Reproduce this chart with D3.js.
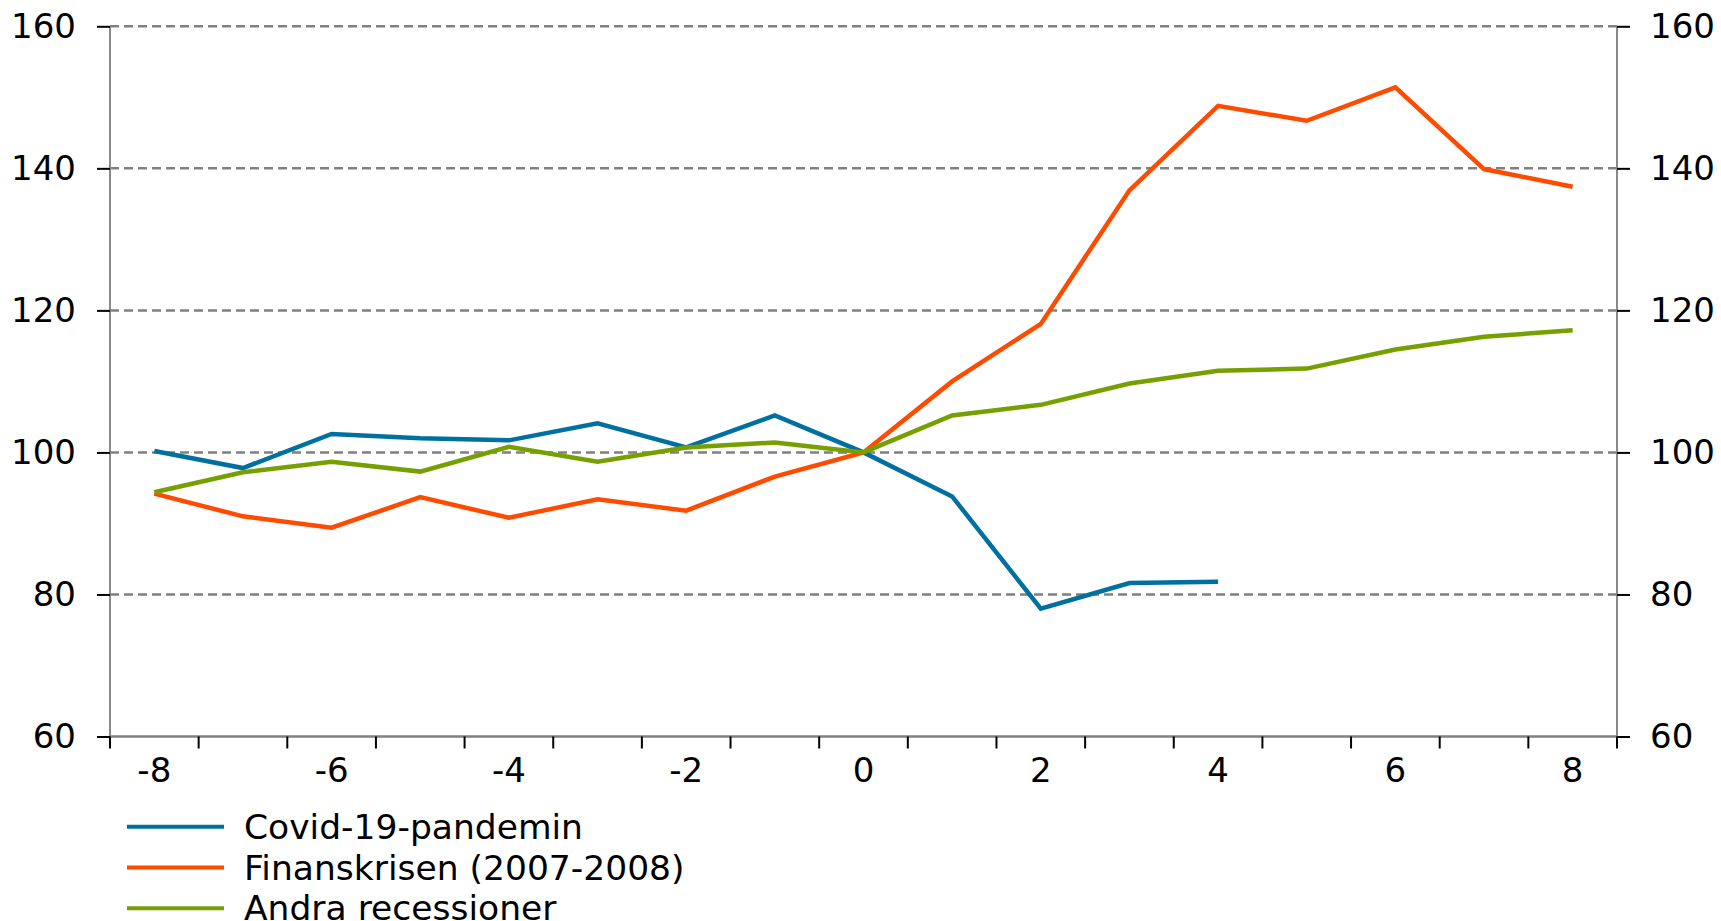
<!DOCTYPE html>
<html>
<head>
<meta charset="utf-8">
<script src="https://cdn.jsdelivr.net/npm/d3@7"></script>
<style>
  body { margin: 0; background: #fff; }
  text { font-family: "DejaVu Sans", Verdana, sans-serif; fill: #000; }
</style>
</head>
<body>
<div id="chart"></div>
<script>
//Data (index, 0 = 100)
var quarters = [-8, -7, -6, -5, -4, -3, -2, -1, 0, 1, 2, 3, 4, 5, 6, 7, 8];
var covid = [100.2, 97.8, 102.6, 102.0, 101.7, 104.1, 100.7, 105.2, 100, 93.8, 78.0, 81.6, 81.8];
var finanskrisen = [94.2, 91.0, 89.4, 93.7, 90.8, 93.4, 91.8, 96.6, 100, 110.0, 118.1, 136.9, 148.8, 146.7, 151.4, 139.9, 137.4];
var andra = [94.4, 97.2, 98.7, 97.3, 100.8, 98.7, 100.7, 101.4, 100, 105.2, 106.7, 109.7, 111.5, 111.8, 114.5, 116.3, 117.2];
var seriesNames = ["Covid-19-pandemin", "Finanskrisen (2007-2008)", "Andra recessioner"];
var yTicks = [60, 80, 100, 120, 140, 160];
var xLabels = [-8, -6, -4, -2, 0, 2, 4, 6, 8];

var width = 1721,
  height = 921;

var colors = ["#0070a0", "#ff4b00", "#76a000"];
var series = [covid, finanskrisen, andra];

var plotLeft = 110,
  plotRight = 1617,
  plotTop = 26.3,
  plotBottom = 736.5;

var x = d3.scaleBand().domain(quarters).range([plotLeft, plotRight]).padding(0);
var y = d3.scaleLinear().domain([60, 160]).range([plotBottom, plotTop]);

var svg = d3
  .select("#chart")
  .append("svg")
  .attr("width", width)
  .attr("height", height);

//Dashed gridlines
svg
  .append("g")
  .selectAll("line")
  .data(yTicks)
  .enter()
  .append("line")
  .attr("x1", plotLeft)
  .attr("x2", plotRight)
  .attr("y1", function (d) { return y(d); })
  .attr("y2", function (d) { return y(d); })
  .attr("stroke", "#808080")
  .attr("stroke-width", 2.5)
  .attr("stroke-dasharray", function (d) { return d == 60 ? null : "9,5"; });

//Left and right axes
var yLeft = d3.axisLeft(y).tickValues(yTicks).tickSize(13).tickPadding(21);
var yRight = d3.axisRight(y).tickValues(yTicks).tickSize(13).tickPadding(20);

var gl = svg.append("g").attr("transform", "translate(" + plotLeft + ",0)").call(yLeft);
var gr = svg.append("g").attr("transform", "translate(" + plotRight + ",0)").call(yRight);

[gl, gr].forEach(function (g) {
  g.select(".domain").attr("d", "M0," + plotTop + "V" + plotBottom)
    .attr("stroke", "#8a8a8a").attr("stroke-width", 2);
  g.selectAll(".tick line").attr("stroke", "#000").attr("stroke-width", 2);
  g.selectAll(".tick text").style("font-size", "34px").attr("fill", "#000");
});

//Bottom axis: tick marks at category boundaries, labels every second quarter
var edges = quarters.map(function (q) { return x(q); }).concat([plotRight]);
svg
  .append("g")
  .selectAll("line")
  .data(edges)
  .enter()
  .append("line")
  .attr("x1", function (d) { return d; })
  .attr("x2", function (d) { return d; })
  .attr("y1", plotBottom)
  .attr("y2", plotBottom + 12)
  .attr("stroke", "#000")
  .attr("stroke-width", 2);

svg
  .append("g")
  .selectAll("text")
  .data(xLabels)
  .enter()
  .append("text")
  .attr("x", function (d) { return x(d) + x.bandwidth() / 2; })
  .attr("y", 770)
  .attr("dy", "0.35em")
  .attr("text-anchor", "middle")
  .style("font-size", "34px")
  .text(function (d) { return d; });

//The lines
var line = d3
  .line()
  .x(function (d, i) { return x(quarters[i]) + x.bandwidth() / 2; })
  .y(function (d) { return y(d); });

svg
  .append("g")
  .selectAll("path")
  .data(series)
  .enter()
  .append("path")
  .attr("d", line)
  .attr("fill", "none")
  .attr("stroke", function (d, i) { return colors[i]; })
  .attr("stroke-width", 4.5)
  .attr("stroke-linejoin", "miter");

//Legend
var legend = svg
  .append("g")
  .selectAll("g")
  .data(seriesNames)
  .enter()
  .append("g")
  .attr("transform", function (d, i) {
    return "translate(127," + (826.7 + i * 40.8) + ")";
  });

legend
  .append("line")
  .attr("x1", 0)
  .attr("x2", 97)
  .attr("stroke", function (d, i) { return colors[i]; })
  .attr("stroke-width", 4);

legend
  .append("text")
  .attr("x", 117)
  .attr("dy", "0.35em")
  .style("font-size", "34.5px")
  .text(function (d) { return d; });
</script>
</body>
</html>
